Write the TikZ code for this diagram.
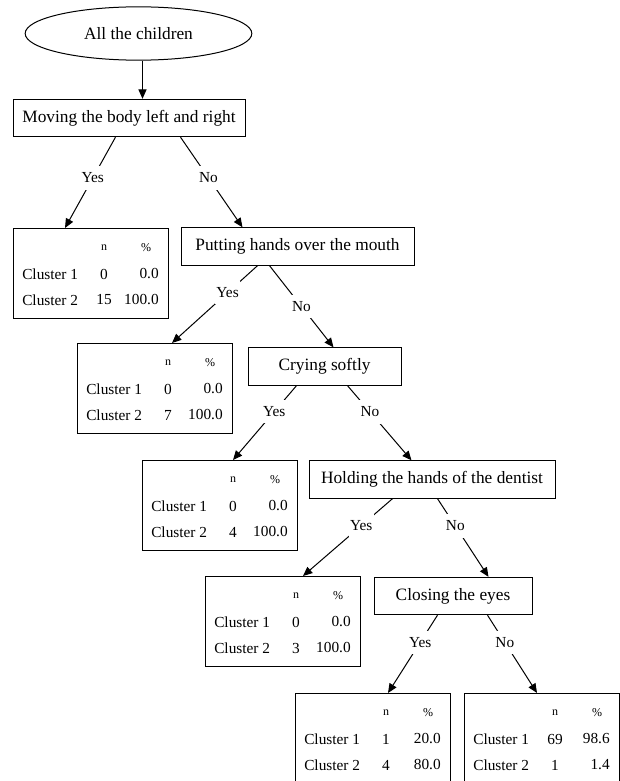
\documentclass[tikz,border=0pt]{standalone}
\usepackage{fontspec}
\setmainfont{Liberation Serif}
\usetikzlibrary{shapes.geometric,arrows.meta}

\tikzset{
  question/.style={draw, line width=0.75pt, minimum height=28pt, inner sep=0pt, font=\fontsize{13}{15}\selectfont},
  clusterbox/.style={draw, line width=0.75pt, anchor=north west, minimum width=116.25pt, minimum height=67.5pt, inner sep=0pt},
  answer/.style={fill=white, inner xsep=1pt, inner ysep=5pt, font=\fontsize{11.5}{13}\selectfont},
  edge/.style={line width=0.75pt, -{Triangle[length=7pt,width=6pt]}},
  cell/.style={inner sep=0pt, font=\fontsize{11.5}{13}\selectfont},
  head/.style={inner sep=0pt, font=\fontsize{9}{10}\selectfont}
}

\newcommand{\clustertable}[6]{%
  \node[clusterbox] (#1) at (#2) {};
  \node[head] (#1-n) at ([shift={(91,20)}]#1.north west) {n};
  \node[head] (#1-p) at ([shift={(133,20)}]#1.north west) {\%};
  \node[cell, anchor=west] (#1-c1) at ([shift={(9,46)}]#1.north west) {Cluster 1};
  \node[cell, anchor=west] (#1-c2) at ([shift={(9,72)}]#1.north west) {Cluster 2};
  \node[cell] (#1-n1) at ([shift={(91,46)}]#1.north west) {#3};
  \node[cell, anchor=east] (#1-p1) at ([shift={(146,46)}]#1.north west) {#4};
  \node[cell] (#1-n2) at ([shift={(91,72)}]#1.north west) {#5};
  \node[cell, anchor=east] (#1-p2) at ([shift={(146,72)}]#1.north west) {#6};
}

\begin{document}
\begin{tikzpicture}[x=0.75pt, y=-0.75pt]
        \useasboundingbox (0,0) rectangle (620,781);
        \node[draw, ellipse, line width=0.75pt, minimum width=170pt, minimum height=40pt, inner sep=0pt, font=\fontsize{13}{15}\selectfont] (root) at (138.5,33.5) {All the children};
        \node[question, minimum width=174pt] (q1) at (129,118) {Moving the body left and right};
        \node[question, minimum width=174.75pt] (q2) at (297.5,246.5) {Putting hands over the mouth};
        \node[question, minimum width=114.75pt] (q3) at (324.5,366.5) {Crying softly};
        \node[question, minimum width=184.5pt] (q4) at (432,479.5) {Holding the hands of the dentist};
        \node[question, minimum width=118.5pt] (q5) at (453,596) {Closing the eyes};
        \clustertable{t1}{13,228}{0}{0.0}{15}{100.0}
        \clustertable{t2}{77,343}{0}{0.0}{7}{100.0}
        \clustertable{t3}{142,460}{0}{0.0}{4}{100.0}
        \clustertable{t4}{205,576}{0}{0.0}{3}{100.0}
        \clustertable{t5}{295,693}{1}{20.0}{4}{80.0}
        \clustertable{t6}{464,693}{69}{98.6}{1}{1.4}
        \draw[edge] ([shift={(4,0)}]root.south) -- ([shift={(4,0)}]root.south |- q1.north);
        \draw[edge] ([shift={(103,0)}]q1.south west) -- node[answer, pos=0.45] {Yes} ([shift={(52,0)}]t1.north west);
        \draw[edge] ([shift={(168,0)}]q1.south west) -- node[answer, pos=0.45] {No} ([shift={(62,0)}]q2.north west);
        \draw[edge] ([shift={(77,0)}]q2.south west) -- node[answer, pos=0.35] {Yes} ([shift={(95,0)}]t2.north west);
        \draw[edge] ([shift={(89,0)}]q2.south west) -- node[answer, pos=0.5] {No} ([shift={(86,0)}]q3.north west);
        \draw[edge] ([shift={(49,0)}]q3.south west) -- node[answer, pos=0.35] {Yes} ([shift={(91,0)}]t3.north west);
        \draw[edge] ([shift={(100,0)}]q3.south west) -- node[answer, pos=0.35] {No} ([shift={(103,0)}]q4.north west);
        \draw[edge] ([shift={(84,0)}]q4.south west) -- node[answer, pos=0.35] {Yes} ([shift={(98,0)}]t4.north west);
        \draw[edge] ([shift={(129,0)}]q4.south west) -- node[answer, pos=0.35] {No} ([shift={(115,0)}]q5.north west);
        \draw[edge] ([shift={(64,0)}]q5.south west) -- node[answer, pos=0.35] {Yes} ([shift={(93,0)}]t5.north west);
        \draw[edge] ([shift={(114,0)}]q5.south west) -- node[answer, pos=0.35] {No} ([shift={(73,0)}]t6.north west);
    \end{tikzpicture}
\end{document}
